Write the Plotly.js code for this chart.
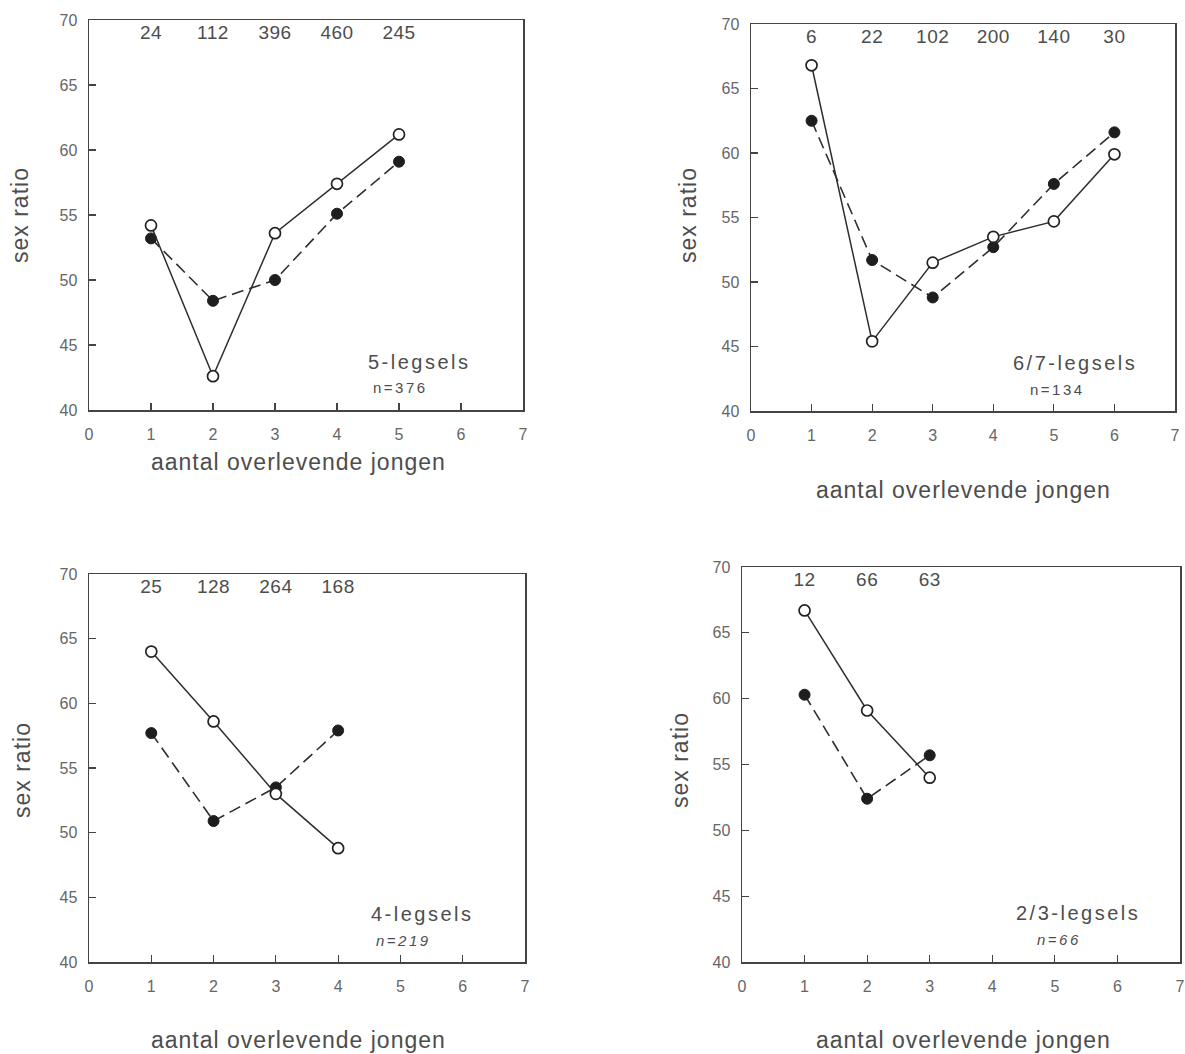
<!DOCTYPE html>
<html><head><meta charset="utf-8">
<script src="https://cdn.plot.ly/plotly-3.0.1.min.js"></script>
<style>
body{margin:0;padding:0;background:#fff;}
#chart{width:1185px;height:1054px;}
.textpoint text{letter-spacing:0.5px;}
</style>
</head><body><div id="chart"></div>
<script>
// ---- data ----
const xTL = [1, 2, 3, 4, 5];
const openTL = [54.2, 42.6, 53.6, 57.4, 61.2];
const filledTL = [53.2, 48.4, 50.0, 55.1, 59.1];
const nTL = ['24', '112', '396', '460', '245'];

const xTR = [1, 2, 3, 4, 5, 6];
const openTR = [66.8, 45.4, 51.5, 53.5, 54.7, 59.9];
const filledTR = [62.5, 51.7, 48.8, 52.7, 57.6, 61.6];
const nTR = ['6', '22', '102', '200', '140', '30'];

const xBL = [1, 2, 3, 4];
const openBL = [64.0, 58.6, 53.0, 48.8];
const filledBL = [57.7, 50.9, 53.5, 57.9];
const nBL = ['25', '128', '264', '168'];

const xBR = [1, 2, 3];
const openBR = [66.7, 59.1, 54.0];
const filledBR = [60.3, 52.4, 55.7];
const nBR = ['12', '66', '63'];

const panelNames = ['5-legsels', '6/7-legsels', '4-legsels', '2/3-legsels'];
const panelN = ['n=376', 'n=134', 'n=219', 'n=66'];
const xTicks = [0, 1, 2, 3, 4, 5, 6, 7];
const yTitle = 'sex ratio';
const xTitle = 'aantal overlevende jongen';

// ---- build ----
const FONT = 'Liberation Sans, Arial, Helvetica, sans-serif';
const TXT = '#4d4d4d';
const LINE = '#2e2e2e';
const countY = 68.9;
const sp = (t, ls) => '<span style="letter-spacing:' + ls + 'px">' + t + '</span>';

const panels = [
  {x: xTL, o: openTL, f: filledTL, n: nTL, ax: '', nameX: 4.47, nX: 4.55, italic: false},
  {x: xTR, o: openTR, f: filledTR, n: nTR, ax: '2', nameX: 4.30, nX: 4.58, italic: false},
  {x: xBL, o: openBL, f: filledBL, n: nBL, ax: '3', nameX: 4.50, nX: 4.58, italic: true},
  {x: xBR, o: openBR, f: filledBR, n: nBR, ax: '4', nameX: 4.35, nX: 4.68, italic: true}
];

const traces = [];
const annotations = [];
panels.forEach((p, i) => {
  const xa = 'x' + p.ax, ya = 'y' + p.ax;
  traces.push({
    x: p.x, y: p.f, xaxis: xa, yaxis: ya, type: 'scatter', mode: 'lines+markers',
    line: {color: LINE, width: 1.6, dash: '12px,6px'},
    marker: {symbol: 'circle', size: 11, color: '#1e1e1e', line: {color: '#1e1e1e', width: 1}},
    showlegend: false, hoverinfo: 'skip'
  });
  traces.push({
    x: p.x, y: p.o, xaxis: xa, yaxis: ya, type: 'scatter', mode: 'lines+markers',
    line: {color: LINE, width: 1.5},
    marker: {symbol: 'circle', size: 11, color: '#ffffff', line: {color: '#222', width: 1.7}},
    showlegend: false, hoverinfo: 'skip'
  });
  traces.push({
    x: p.x, y: p.x.map(() => countY), xaxis: xa, yaxis: ya, type: 'scatter', mode: 'text',
    text: p.n, textposition: 'middle center',
    textfont: {family: FONT, size: 19, color: TXT},
    showlegend: false, hoverinfo: 'skip', cliponaxis: false
  });
  annotations.push({
    xref: xa, yref: ya, x: p.nameX, y: 43.7, xanchor: 'left', yanchor: 'middle',
    text: sp(panelNames[i], 2.5), showarrow: false, font: {family: FONT, size: 20, color: TXT}
  });
  annotations.push({
    xref: xa, yref: ya, x: p.nX, y: 41.7, xanchor: 'left', yanchor: 'middle',
    text: p.italic ? '<i>' + sp(panelN[i], 2.5) + '</i>' : sp(panelN[i], 2.5), showarrow: false,
    font: {family: FONT, size: 15, color: TXT}
  });
});

// axis titles (positions in pixels converted to paper)
const W = 1185, H = 1054;
const xTitles = [[298, 462], [963, 490], [298, 1040], [963, 1040]];
const yTitles = [[20, 215], [688, 215], [22, 770], [680, 760]];
xTitles.forEach(([px, py]) => annotations.push({
  xref: 'paper', yref: 'paper', x: px / W, y: 1 - py / H, xanchor: 'center', yanchor: 'middle',
  text: sp(xTitle, 1), showarrow: false, font: {family: FONT, size: 23, color: TXT}
}));
yTitles.forEach(([px, py]) => annotations.push({
  xref: 'paper', yref: 'paper', x: px / W, y: 1 - py / H, xanchor: 'center', yanchor: 'middle',
  text: sp(yTitle, 1), textangle: -90, showarrow: false, font: {family: FONT, size: 23, color: TXT}
}));

function xAxis(d) {
  return {domain: d, range: [0, 7], tickvals: xTicks, ticks: 'inside', ticklen: 7, tickwidth: 1.2,
    tickcolor: '#444', showline: true, mirror: true, linecolor: '#444', linewidth: 1.5,
    showgrid: false, zeroline: false, ticklabelstandoff: 9,
    tickfont: {family: FONT, size: 16, color: '#666'}, fixedrange: true};
}
function yAxis(d) {
  return {domain: d, range: [40, 70], dtick: 5, tick0: 40, ticks: 'inside', ticklen: 7, tickwidth: 1.2,
    tickcolor: '#444', showline: true, mirror: true, linecolor: '#444', linewidth: 1.5,
    showgrid: false, zeroline: false, ticklabelstandoff: 7,
    tickfont: {family: FONT, size: 16, color: '#666'}, fixedrange: true};
}
const px = (a, b) => [a / W, b / W];
const py = (top, bottom) => [1 - bottom / H, 1 - top / H];

const layout = {
  width: W, height: H, margin: {l: 0, r: 0, t: 0, b: 0},
  paper_bgcolor: '#fff', plot_bgcolor: '#fff', showlegend: false,
  xaxis: Object.assign(xAxis(px(89, 523)), {anchor: 'y'}),
  yaxis: Object.assign(yAxis(py(20, 410)), {anchor: 'x'}),
  xaxis2: Object.assign(xAxis(px(751, 1175)), {anchor: 'y2'}),
  yaxis2: Object.assign(yAxis(py(24, 411)), {anchor: 'x2'}),
  xaxis3: Object.assign(xAxis(px(89, 525)), {anchor: 'y3'}),
  yaxis3: Object.assign(yAxis(py(574, 962)), {anchor: 'x3'}),
  xaxis4: Object.assign(xAxis(px(742, 1180)), {anchor: 'y4'}),
  yaxis4: Object.assign(yAxis(py(567, 962)), {anchor: 'x4'}),
  annotations: annotations
};

Plotly.newPlot('chart', traces, layout, {displayModeBar: false, staticPlot: true});
</script>
</body></html>
